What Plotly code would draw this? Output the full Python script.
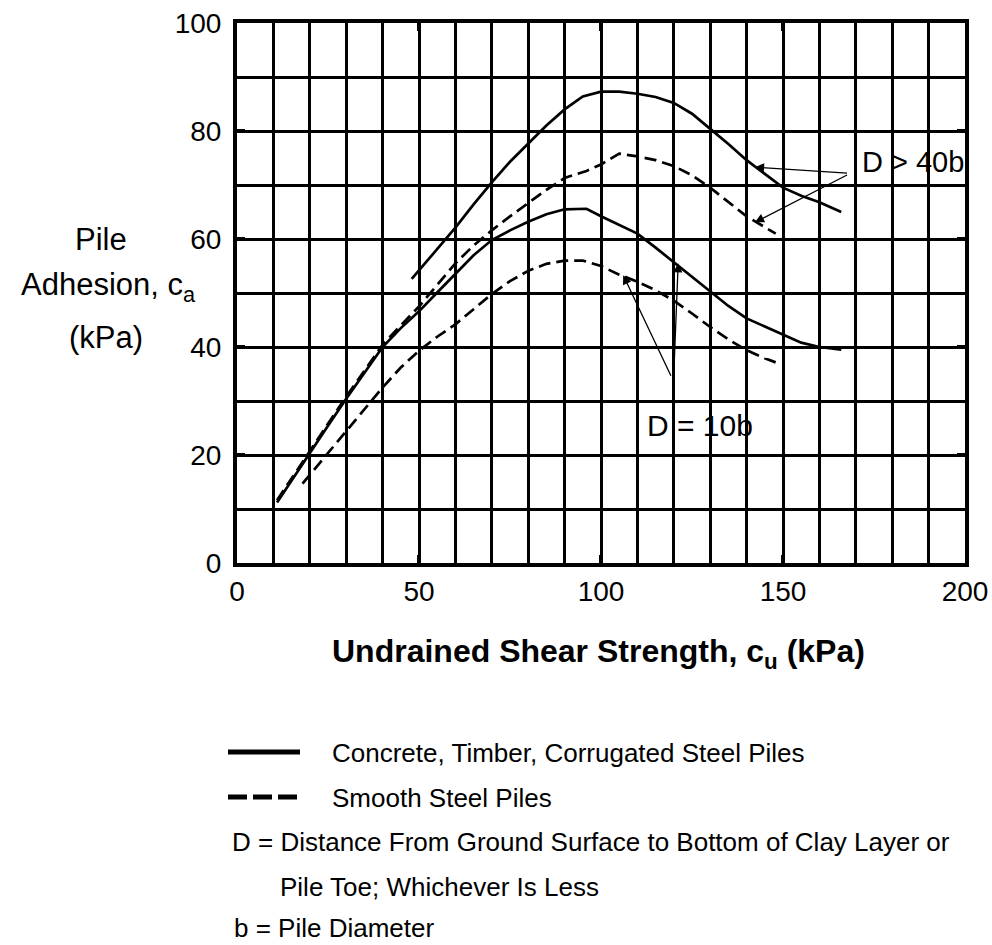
import plotly.graph_objects as go

# ---------------- data ----------------
# Concrete, timber, corrugated steel piles, D > 40b (solid, upper)
x_conc_40b = [48, 55, 60, 65, 70, 75, 80, 85, 90, 95, 100, 105, 110, 115, 120, 125, 130, 135, 140, 145, 150, 155, 160, 166]
y_conc_40b = [52.6, 58.1, 62.1, 66.4, 70.5, 74.3, 77.7, 81.0, 84.0, 86.4, 87.3, 87.3, 86.9, 86.3, 85.2, 83.2, 80.4, 77.6, 74.6, 72.0, 69.5, 68.0, 66.8, 65.0]

# Smooth steel piles, D > 40b (dashed, upper)
x_steel_40b = [11, 15, 20, 25, 30, 35, 40, 45, 50, 55, 60, 65, 70, 75, 80, 85, 90, 96, 100, 105, 110, 115, 120, 125, 130, 135, 140, 145, 148]
y_steel_40b = [11.6, 15.7, 20.7, 25.8, 30.8, 35.7, 40.4, 44.0, 47.5, 51.5, 55.5, 58.8, 61.6, 64.2, 66.6, 69.1, 71.3, 72.6, 73.8, 75.8, 75.3, 74.6, 73.5, 71.8, 69.5, 66.8, 64.2, 62.2, 61.0]

# Concrete, timber, corrugated steel piles, D = 10b (solid, lower)
x_conc_10b = [11, 15, 20, 25, 30, 35, 40, 45, 50, 55, 60, 65, 70, 75, 80, 85, 90, 96, 100, 105, 110, 115, 120, 125, 130, 135, 140, 145, 150, 155, 160, 166]
y_conc_10b = [11.2, 15.3, 20.3, 25.4, 30.4, 35.3, 40.0, 43.5, 46.6, 50.1, 53.6, 57.0, 59.8, 61.6, 63.2, 64.6, 65.5, 65.6, 64.2, 62.6, 61.0, 58.4, 55.7, 53.0, 50.2, 47.6, 45.3, 43.8, 42.2, 40.8, 40.0, 39.5]

# Smooth steel piles, D = 10b (dashed, lower)
x_steel_10b = [18, 20, 25, 30, 35, 40, 45, 50, 55, 60, 65, 70, 75, 80, 85, 90, 95, 100, 105, 110, 115, 120, 125, 130, 135, 140, 145, 149]
y_steel_10b = [14.7, 16.3, 20.4, 24.3, 28.5, 32.5, 36.2, 39.3, 41.9, 44.2, 47.0, 49.8, 52.2, 54.1, 55.4, 56.0, 56.0, 55.0, 53.4, 52.1, 50.5, 48.6, 46.2, 43.7, 41.4, 39.4, 37.9, 36.9]

x_ticks = [0, 50, 100, 150, 200]
y_ticks = [0, 20, 40, 60, 80, 100]

legend_rows = [
    "Concrete, Timber, Corrugated Steel Piles",
    "Smooth Steel Piles",
]
note_rows = [
    "D = Distance From Ground Surface to Bottom of Clay Layer or",
    "Pile Toe; Whichever Is Less",
    "b = Pile Diameter",
]

FONT = "Liberation Sans, Arial, Helvetica, sans-serif"

# ---------------- figure ----------------
W, H = 992, 945
L, R, T, B = 237, 27, 23, 382
PW, PH = W - L - R, H - T - B


def px(xp):
    return (xp - L) / PW


def py(yp):
    return (H - B - yp) / PH


fig = go.Figure()
line_w = 2.7
dash = "12px,6px"
fig.add_trace(go.Scatter(x=x_conc_40b, y=y_conc_40b, mode="lines",
                         line=dict(color="black", width=line_w), showlegend=False))
fig.add_trace(go.Scatter(x=x_steel_40b, y=y_steel_40b, mode="lines",
                         line=dict(color="black", width=line_w, dash=dash), showlegend=False))
fig.add_trace(go.Scatter(x=x_conc_10b, y=y_conc_10b, mode="lines",
                         line=dict(color="black", width=line_w), showlegend=False))
fig.add_trace(go.Scatter(x=x_steel_10b, y=y_steel_10b, mode="lines",
                         line=dict(color="black", width=line_w, dash=dash), showlegend=False))

annotations = []
# curve labels
annotations.append(dict(x=171.2, y=74.3, xref="x", yref="y", text="D > 40b", showarrow=False,
                        xanchor="left", yanchor="middle", font=dict(family=FONT, size=29, color="black")))
annotations.append(dict(x=112.1, y=25.4, xref="x", yref="y", text="D = 10b", showarrow=False,
                        xanchor="left", yanchor="middle", font=dict(family=FONT, size=30, color="black")))
# arrows
for (tx, ty, hx, hy) in [(168.0, 72.2, 142.3, 73.3), (168.0, 72.0, 142.3, 63.1),
                         (119.4, 34.4, 106.1, 53.3), (120.0, 35.0, 121.2, 55.5)]:
    annotations.append(dict(x=hx, y=hy, ax=tx, ay=ty, xref="x", yref="y", axref="x", ayref="y",
                            text="", showarrow=True, arrowhead=2, arrowsize=1.4, arrowwidth=1.3,
                            arrowcolor="black"))

# y axis title (three lines)
for txt, xx, yy in [("Pile", 101, 239), ("Adhesion, c<sub>a</sub>", 108, 287), ("(kPa)", 106, 338)]:
    annotations.append(dict(x=px(xx), y=py(yy), xref="paper", yref="paper", text=txt, showarrow=False,
                            xanchor="center", yanchor="middle", font=dict(family=FONT, size=31, color="black")))

# x axis title
annotations.append(dict(x=px(598), y=py(653), xref="paper", yref="paper",
                        text="<b>Undrained Shear Strength, c<sub>u</sub> (kPa)</b>", showarrow=False,
                        xanchor="center", yanchor="middle", font=dict(family=FONT, size=32, color="black")))

# legend rows
shapes = []
for i, (txt, yy) in enumerate(zip(legend_rows, [752, 797])):
    shapes.append(dict(type="line", xref="paper", yref="paper", x0=px(228), x1=px(300), y0=py(yy), y1=py(yy),
                       line=dict(color="black", width=5, dash="solid" if i == 0 else "19px,6px")))
    annotations.append(dict(x=px(330), y=py(yy + 1), xref="paper", yref="paper", text=txt, showarrow=False,
                            xanchor="left", yanchor="middle", font=dict(family=FONT, size=26, color="black")))
for txt, xx, yy in zip(note_rows, [230, 278, 232], [841, 886, 927]):
    annotations.append(dict(x=px(xx), y=py(yy + 1), xref="paper", yref="paper", text=txt, showarrow=False,
                            xanchor="left", yanchor="middle", font=dict(family=FONT, size=26, color="black")))

axis_common = dict(
    showline=True, linecolor="black", linewidth=4, mirror="ticks",
    showgrid=True, gridcolor="black", gridwidth=3,
    ticks="inside", ticklen=8, tickwidth=4, tickcolor="black",
    zeroline=False, automargin=False,
    tickfont=dict(family=FONT, size=28, color="black"),
    minor=dict(dtick=10, showgrid=True, gridcolor="black", gridwidth=3, ticks=""),
)

fig.update_layout(
    width=W, height=H,
    margin=dict(l=L, r=R, t=T, b=B),
    paper_bgcolor="white", plot_bgcolor="white",
    xaxis=dict(range=[0, 200], tickmode="array", tickvals=x_ticks, ticklabelstandoff=0, **axis_common),
    yaxis=dict(range=[0, 100], tickmode="array", tickvals=y_ticks, ticklabelstandoff=6, **axis_common),
    annotations=annotations,
    shapes=shapes,
    showlegend=False,
)

fig.write_html("out.html")
